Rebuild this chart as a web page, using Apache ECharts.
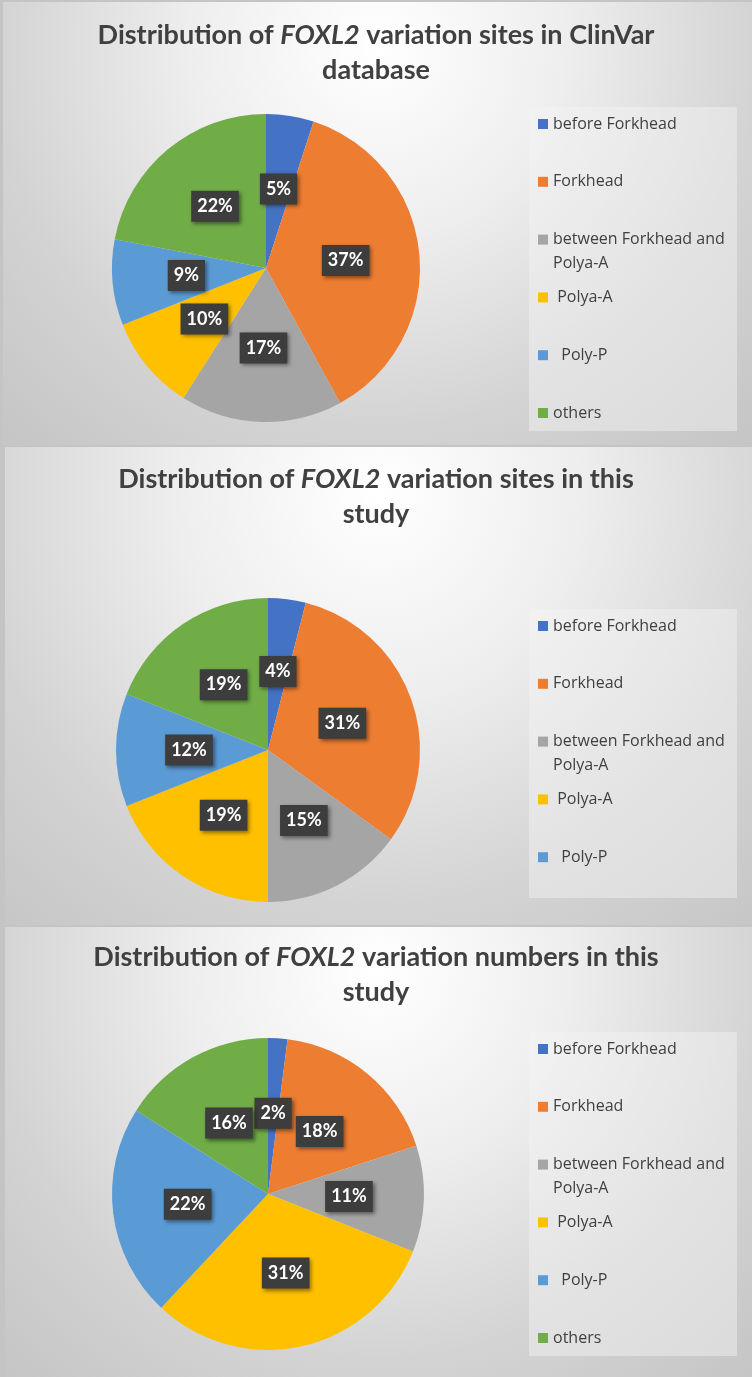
<!DOCTYPE html>
<html>
<head>
<meta charset="utf-8">
<script src="https://cdn.jsdelivr.net/npm/echarts@6/dist/echarts.min.js"></script>
<style>
html,body{margin:0;padding:0;background:#c4c4c4;}
#chart{width:752px;height:1377px;}
</style>
</head>
<body>
<div id="chart"></div>
<script>
// ---- data ----
const categories = ['before Forkhead', 'Forkhead', 'between Forkhead and Polya-A', 'Polya-A', 'Poly-P', 'others'];
const legendLabels = ['before Forkhead', 'Forkhead', 'between Forkhead and\nPolya-A', ' Polya-A', '  Poly-P', 'others'];
const clinvarSiteValues = [5, 37, 17, 10, 9, 22];
const studySiteValues = [4, 31, 15, 19, 12, 19];
const studyNumberValues = [2, 18, 11, 31, 22, 16];
const sliceColors = ['#4472C4', '#ED7D31', '#A5A5A5', '#FFC000', '#5B9BD5', '#70AD47'];
const titleTexts = [
  ['Distribution of ', 'FOXL2', ' variation sites in ClinVar', 'database'],
  ['Distribution of ', 'FOXL2', ' variation sites in this', 'study'],
  ['Distribution of ', 'FOXL2', ' variation numbers in this', 'study']
];
const panelLegendItems = [
  [0, 1, 2, 3, 4, 5],
  [0, 1, 2, 3, 4],
  [0, 1, 2, 3, 4, 5]
];

// ---- layout ----
const panels = [
  {x: 3, y: 2, w: 749, h: 443, titleTop: 18, cx: 266, cy: 268, r: 154, legBox: [529, 107, 208, 324], legY0: 124},
  {x: 5, y: 447, w: 747, h: 478, titleTop: 462, cx: 268, cy: 750, r: 152, legBox: [529, 609, 208, 289], legY0: 626},
  {x: 5, y: 927, w: 747, h: 450, titleTop: 940, cx: 268, cy: 1194, r: 156, legBox: [529, 1032, 208, 324], legY0: 1049}
];
const legStep = 57.8;
const valueSets = [clinvarSiteValues, studySiteValues, studyNumberValues];

const chart = echarts.init(document.getElementById('chart'), null, {renderer: 'canvas'});

const graphic = [];
panels.forEach(p => {
  graphic.push({
    type: 'rect', z: 0, silent: true,
    shape: {x: p.x, y: p.y, width: p.w, height: p.h},
    style: {fill: new echarts.graphic.RadialGradient(0.5, 0.1, 1.2, [
      {offset: 0, color: '#ffffff'},
      {offset: 0.35, color: '#eeeeee'},
      {offset: 0.72, color: '#d3d3d3'},
      {offset: 1, color: '#c6c6c6'}
    ])}
  });
  graphic.push({
    type: 'rect', z: 1, silent: true,
    shape: {x: p.legBox[0], y: p.legBox[1], width: p.legBox[2], height: p.legBox[3]},
    style: {fill: 'rgba(245,245,245,0.45)'}
  });
});

const titles = titleTexts.map((t, i) => ({
  left: 'center',
  top: panels[i].titleTop,
  padding: 0,
  text: '{b|' + t[0] + '}{i|' + t[1] + '}{b|' + t[2] + '}\n{b|' + t[3] + '}',
  textStyle: {
    rich: {
      b: {fontFamily: 'Lato', fontWeight: 'bold', fontSize: 27, color: '#404040', lineHeight: 35},
      i: {fontFamily: 'Lato', fontWeight: 'bold', fontStyle: 'italic', fontSize: 27, color: '#404040', lineHeight: 35}
    }
  }
}));

const legends = [];
panels.forEach((p, pi) => {
  panelLegendItems[pi].forEach((ci, k) => {
    const yc = p.legY0 + k * legStep;
    const multi = legendLabels[ci].indexOf('\n') >= 0;
    const half = multi ? 36 : 12;
    legends.push({
      data: [categories[ci]],
      orient: 'vertical',
      left: 538,
      top: yc - half,
      padding: 0,
      itemGap: 0,
      itemWidth: 10,
      itemHeight: 10,
      icon: 'rect',
      selectedMode: false,
      formatter: () => multi ? '\n' + legendLabels[ci] : legendLabels[ci],
      textStyle: {fontFamily: 'Open Sans', fontSize: 16, color: '#404040', lineHeight: 24}
    });
  });
});

const series = panels.map((p, pi) => ({
  type: 'pie',
  center: [p.cx, p.cy],
  radius: p.r,
  startAngle: 90,
  clockwise: true,
  avoidLabelOverlap: false,
  emphasis: {disabled: true},
  itemStyle: {borderWidth: 0},
  label: {
    show: true,
    position: 'inside',
    formatter: (d) => d.value + '%',
    color: '#ffffff',
    fontFamily: 'Lato',
    fontWeight: 'bold',
    fontSize: 18,
    lineHeight: 19,
    backgroundColor: '#3d3d3d',
    padding: [6, 6, 6, 6],
    shadowColor: 'rgba(0,0,0,0.45)',
    shadowBlur: 4,
    shadowOffsetX: 2,
    shadowOffsetY: 2
  },
  labelLine: {show: false},
  data: categories.map((c, i) => ({name: c, value: valueSets[pi][i], itemStyle: {color: sliceColors[i]}}))
}));

chart.setOption({
  animation: false,
  backgroundColor: '#c4c4c4',
  graphic: graphic,
  title: titles,
  legend: legends,
  series: series
});
</script>
</body>
</html>
